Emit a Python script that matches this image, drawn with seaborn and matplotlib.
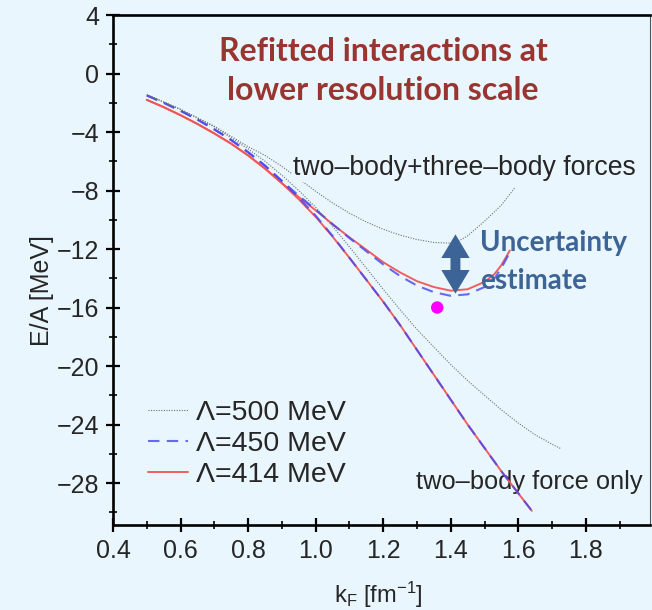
import numpy as np
import pandas as pd
import matplotlib
matplotlib.use("Agg")
import matplotlib.pyplot as plt
import seaborn as sns
from matplotlib.ticker import MultipleLocator

# ---------------- data ----------------
k_2b_414 = [0.50, 0.55, 0.60, 0.65, 0.70, 0.75, 0.80, 0.85, 0.90, 0.95, 1.00, 1.05,
            1.10, 1.15, 1.20, 1.25, 1.30, 1.35, 1.40, 1.45, 1.50, 1.55, 1.60, 1.64]
E_2b_414 = [-1.8, -2.3, -2.85, -3.45, -4.1, -4.8, -5.6, -6.5, -7.5, -8.6, -9.8, -11.15,
            -12.6, -14.1, -15.6, -17.2, -18.9, -20.6, -22.3, -24.0, -25.6, -27.2, -28.7, -29.9]

k_2b_450 = k_2b_414
E_2b_450 = [-1.5, -2.0, -2.55, -3.15, -3.82, -4.55, -5.38, -6.3, -7.35, -8.5, -9.72, -11.1,
            -12.6, -14.1, -15.6, -17.2, -18.9, -20.6, -22.3, -24.0, -25.6, -27.2, -28.7, -29.9]

k_2b_500 = [0.50, 0.60, 0.70, 0.80, 0.85, 0.90, 0.95, 1.00, 1.05, 1.10, 1.15, 1.20, 1.25,
            1.30, 1.35, 1.40, 1.45, 1.50, 1.55, 1.60, 1.65, 1.70, 1.726]
E_2b_500 = [-1.45, -2.45, -3.65, -5.15, -6.0, -6.95, -8.0, -9.15, -10.45, -11.85, -13.3, -14.75, -16.15,
            -17.5, -18.7, -19.9, -21.0, -22.0, -23.0, -23.9, -24.7, -25.35, -25.65]

k_3b_414 = [0.50, 0.55, 0.60, 0.65, 0.70, 0.75, 0.80, 0.85, 0.90, 0.95, 1.00, 1.05, 1.10,
            1.15, 1.20, 1.25, 1.30, 1.35, 1.40, 1.45, 1.50, 1.53, 1.55, 1.575]
E_3b_414 = [-1.8, -2.3, -2.85, -3.45, -4.1, -4.8, -5.6, -6.5, -7.5, -8.45, -9.35, -10.3, -11.2,
            -12.05, -12.9, -13.6, -14.2, -14.6, -14.85, -14.75, -14.25, -13.7, -13.1, -12.1]

k_3b_450 = [0.50, 0.55, 0.60, 0.65, 0.70, 0.75, 0.80, 0.85, 0.90, 0.95, 1.00, 1.05, 1.10,
            1.15, 1.20, 1.25, 1.30, 1.35, 1.40, 1.45, 1.50, 1.53, 1.55, 1.58]
E_3b_450 = [-1.5, -2.0, -2.55, -3.15, -3.82, -4.55, -5.38, -6.3, -7.35, -8.35, -9.3, -10.3, -11.25,
            -12.15, -13.05, -13.85, -14.5, -14.95, -15.2, -15.1, -14.6, -14.0, -13.3, -12.0]

k_3b_500 = [0.50, 0.60, 0.70, 0.80, 0.85, 0.90, 0.95, 1.00, 1.05, 1.10, 1.15, 1.20, 1.25,
            1.30, 1.35, 1.40, 1.42, 1.45, 1.50, 1.55, 1.59]
E_3b_500 = [-1.45, -2.45, -3.6, -5.0, -5.6, -6.35, -7.2, -8.05, -8.85, -9.55, -10.15, -10.65, -11.05,
            -11.35, -11.55, -11.6, -11.5, -11.1, -10.1, -9.0, -7.8]

cutoff_labels = ["Λ=500 MeV", "Λ=450 MeV", "Λ=414 MeV"]

empirical_k = [1.36]
empirical_E = [-16.0]

x_ticks = [0.4, 0.6, 0.8, 1.0, 1.2, 1.4, 1.6, 1.8]
y_ticks = [4, 0, -4, -8, -12, -16, -20, -24, -28]

# ---------------- long table ----------------
frames = []
for lab, force, k, E in [
    ("Λ=414 MeV", "2b", k_2b_414, E_2b_414),
    ("Λ=450 MeV", "2b", k_2b_450, E_2b_450),
    ("Λ=500 MeV", "2b", k_2b_500, E_2b_500),
    ("Λ=414 MeV", "3b", k_3b_414, E_3b_414),
    ("Λ=450 MeV", "3b", k_3b_450, E_3b_450),
    ("Λ=500 MeV", "3b", k_3b_500, E_3b_500),
]:
    frames.append(pd.DataFrame({"k": k, "E": E, "cutoff": lab, "force": force}))
df = pd.concat(frames, ignore_index=True)

# ---------------- style ----------------
sns.set_style("ticks")
BG = "#EAF6FD"
plt.rcParams["font.family"] = ["Liberation Sans", "DejaVu Sans"]
plt.rcParams["mathtext.default"] = "regular"
plt.rcParams["axes.unicode_minus"] = True

fig = plt.figure(figsize=(6.52, 6.10), dpi=100, facecolor=BG)
ax = fig.add_axes([113 / 652, 1 - 525 / 610, (650 - 113) / 652, (525 - 15) / 610])
ax.set_facecolor(BG)

styles = {
    "Λ=414 MeV": dict(color="#F25656", lw=1.4, linestyle="-", alpha=0.95, zorder=3),
    "Λ=450 MeV": dict(color="#4646F0", lw=1.5, linestyle=(0, (5.5, 3.5)), alpha=0.8, zorder=4),
    "Λ=500 MeV": dict(color="#707070", lw=0.8, linestyle=(0, (1, 1.3)), alpha=1.0, zorder=5),
}

handles = {}
for force in ["2b", "3b"]:
    for lab in ["Λ=414 MeV", "Λ=450 MeV", "Λ=500 MeV"]:
        sub = df[(df.cutoff == lab) & (df.force == force)]
        sns.lineplot(data=sub, x="k", y="E", sort=False, estimator=None, ax=ax,
                     legend=False, **styles[lab])
        if force == "2b":
            handles[lab] = ax.get_lines()[-1]

sns.scatterplot(x=empirical_k, y=empirical_E, ax=ax, color="#FF00FF", s=80,
                edgecolor="none", zorder=6, legend=False)

# ---------------- axes ----------------
ax.set_xlim(0.4, 1.99)
ax.set_ylim(-30.87, 4)
ax.set_xticks(x_ticks)
ax.set_yticks(y_ticks)
ax.set_xticklabels([f"{v:.1f}" for v in x_ticks])
ax.set_yticklabels([str(v).replace("-", "\u2212") for v in y_ticks])
ax.xaxis.set_minor_locator(MultipleLocator(0.1))
ax.yaxis.set_minor_locator(MultipleLocator(2))
ax.tick_params(which="major", direction="inout", length=10, width=1.6,
               labelsize=18, color="black", pad=5)
ax.tick_params(which="minor", direction="inout", length=6, width=1.2, color="black")
ax.tick_params(top=False, right=False, which="both")

for s in ["left", "bottom", "top"]:
    ax.spines[s].set_linewidth(1.9)
    ax.spines[s].set_color("black")
ax.spines["right"].set_linewidth(0.8)
ax.spines["right"].set_color("#555555")

ax.set_xlabel("k$_F$ [fm$^{-1}$]", fontsize=17)
ax.xaxis.set_label_coords(0.4935, -0.107)
ax.set_ylabel("")
fig.text(42 / 652, 1 - 291 / 610, "E/A [MeV]", rotation=90, ha="center", va="center",
         fontsize=18)

# ---------------- legend ----------------
leg = ax.legend([handles[l] for l in cutoff_labels], cutoff_labels,
                loc="upper left", bbox_to_anchor=(148 / 652, 1 - 400 / 610),
                bbox_transform=fig.transFigure, frameon=False, fontsize=20.5,
                handlelength=1.4, handletextpad=0.3, labelspacing=0.17,
                borderpad=0, borderaxespad=0)

# ---------------- annotations ----------------
ax.text(0.933, -6.46, "two\u2013body+three\u2013body forces", fontsize=19.2,
        ha="left", va="center", zorder=7,
        bbox=dict(facecolor=BG, edgecolor="none", pad=1.0))
ax.text(1.297, -27.95, "two\u2013body force only", fontsize=18.3, ha="left", va="center",
        zorder=2)

title_col = "#983530"
ax.text(0.503, 0.929, "Refitted interactions at", transform=ax.transAxes, fontsize=23,
        fontweight="bold", family=["Lato", "DejaVu Sans"], color=title_col,
        ha="center", va="center")
ax.text(0.503, 0.851, "lower resolution scale", transform=ax.transAxes, fontsize=23,
        fontweight="bold", family=["Lato", "DejaVu Sans"], color=title_col,
        ha="center", va="center")

unc_col = "#3C6496"
ax.text(0.683, 0.553, "Uncertainty", transform=ax.transAxes, fontsize=20,
        fontweight="bold", family=["Lato", "DejaVu Sans"], color=unc_col,
        ha="left", va="center", zorder=8)
ax.text(0.683, 0.478, "estimate", transform=ax.transAxes, fontsize=20,
        fontweight="bold", family=["Lato", "DejaVu Sans"], color=unc_col,
        ha="left", va="center", zorder=8)

arrow_style = "simple,head_length=1.0,head_width=1.2,tail_width=0.42"
y_top, y_bot = -11.0, -15.05
mid = (y_top + y_bot) / 2
for yend in (y_top, y_bot):
    ax.annotate("", xy=(1.414, yend), xytext=(1.414, mid),
                arrowprops=dict(arrowstyle=arrow_style, mutation_scale=17,
                                color=unc_col, shrinkA=0, shrinkB=0, lw=0),
                zorder=9)

fig.savefig("out.png", dpi=100, facecolor=BG)
